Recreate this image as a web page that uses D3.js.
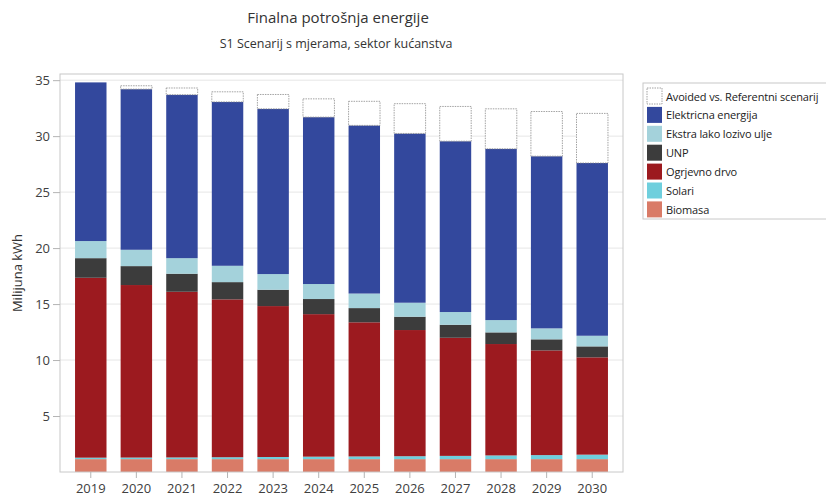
<!DOCTYPE html>
<html>
<head>
<meta charset="utf-8">
<script src="https://cdn.jsdelivr.net/npm/d3@7"></script>
<style>
  body { margin: 0; background: #fff; }
  text { font-family: "Open Sans", "Noto Sans", sans-serif; }
</style>
</head>
<body>
<div id="chart"></div>
<script>
const years = ["2019", "2020", "2021", "2022", "2023", "2024", "2025", "2026", "2027", "2028", "2029", "2030"];

const biomasa = [1.15, 1.15, 1.15, 1.15, 1.15, 1.15, 1.15, 1.15, 1.15, 1.15, 1.15, 1.15];
const solari = [0.13, 0.14, 0.15, 0.17, 0.19, 0.22, 0.24, 0.26, 0.29, 0.33, 0.36, 0.40];
const ogrjevnoDrvo = [16.07, 15.41, 14.80, 14.10, 13.48, 12.73, 11.98, 11.27, 10.55, 9.95, 9.35, 8.69];
const unp = [1.75, 1.69, 1.61, 1.54, 1.46, 1.35, 1.27, 1.19, 1.16, 1.04, 0.99, 0.98];
const ekstraLako = [1.53, 1.46, 1.39, 1.46, 1.40, 1.34, 1.30, 1.25, 1.14, 1.10, 0.98, 0.95];
const elektricna = [14.17, 14.35, 14.60, 14.64, 14.76, 14.91, 15.02, 15.12, 15.26, 15.30, 15.38, 15.43];
const avoided = [0, 0.30, 0.60, 0.90, 1.28, 1.63, 2.15, 2.66, 3.10, 3.57, 3.99, 4.43];

const yTicks = [5, 10, 15, 20, 25, 30, 35];

const series = [
  { name: "Biomasa", values: biomasa, color: "#d97b67" },
  { name: "Solari", values: solari, color: "#6fcfdd" },
  { name: "Ogrjevno drvo", values: ogrjevnoDrvo, color: "#9c1a1f" },
  { name: "UNP", values: unp, color: "#3c3c3c" },
  { name: "Ekstra lako lozivo ulje", values: ekstraLako, color: "#a4d2db" },
  { name: "Elektricna energija", values: elektricna, color: "#33489d" },
  { name: "Avoided vs. Referentni scenarij", values: avoided, color: "#ffffff", dashed: true }
];

const svgWidth = 826, svgHeight = 499;
const margin = { top: 74, right: 203, bottom: 27, left: 60 };
const width = svgWidth - margin.left - margin.right;
const height = svgHeight - margin.top - margin.bottom;

const svg = d3.select("#chart").append("svg")
  .attr("width", svgWidth)
  .attr("height", svgHeight);

const g = svg.append("g")
  .attr("transform", `translate(${margin.left}, ${margin.top})`);

const x = d3.scaleBand()
  .domain(years)
  .range([0, width])
  .paddingInner(0.31)
  .paddingOuter(0.33);

const y = d3.scaleLinear()
  .domain([0, 35.55])
  .range([height, 0]);

// grid
g.selectAll(".grid")
  .data(yTicks)
  .enter()
  .append("line")
  .attr("x1", 0)
  .attr("x2", width)
  .attr("y1", d => y(d))
  .attr("y2", d => y(d))
  .attr("stroke", "#e6e6e6")
  .attr("stroke-width", 1);

// stacked data
const table = years.map((yr, i) => {
  const row = { year: yr };
  series.forEach(s => { row[s.name] = s.values[i]; });
  return row;
});
const stack = d3.stack().keys(series.map(s => s.name));
const stacked = stack(table);

stacked.forEach((layer, li) => {
  const s = series[li];
  g.append("g")
    .selectAll("rect")
    .data(layer.filter(d => d[1] - d[0] > 0))
    .enter()
    .append("rect")
    .attr("x", d => x(d.data.year))
    .attr("width", x.bandwidth())
    .attr("y", d => y(d[1]))
    .attr("height", d => y(d[0]) - y(d[1]))
    .attr("fill", s.color)
    .attr("stroke", s.dashed ? "#8c8c8c" : "none")
    .attr("stroke-width", s.dashed ? 0.8 : 0)
    .attr("stroke-dasharray", s.dashed ? "1.5,1" : null);
});

// frame
g.append("rect")
  .attr("width", width)
  .attr("height", height)
  .attr("fill", "none")
  .attr("stroke", "#c8c8c8")
  .attr("stroke-width", 1);

// axes
const yAxis = g.append("g")
  .call(d3.axisLeft(y).tickValues(yTicks).tickSize(7).tickPadding(3))
  .call(a => a.select(".domain").remove());
yAxis.selectAll(".tick line").attr("stroke", "#b4b4b4");
yAxis.selectAll("text")
  .style("font-size", "13px")
  .attr("fill", "#404040");

const xAxis = g.append("g")
  .attr("transform", `translate(0, ${height})`)
  .call(d3.axisBottom(x).tickSize(6).tickPadding(6))
  .call(a => a.select(".domain").remove());
xAxis.selectAll(".tick line").attr("stroke", "#b4b4b4");
xAxis.selectAll("text")
  .style("font-size", "13px")
  .attr("fill", "#404040");

// y label
svg.append("text")
  .attr("transform", `translate(22, ${margin.top + height / 2}) rotate(-90)`)
  .attr("text-anchor", "middle")
  .style("font-size", "13px")
  .attr("fill", "#333")
  .text("Milijuna kWh");

// titles
svg.append("text")
  .attr("x", 338)
  .attr("y", 23)
  .attr("text-anchor", "middle")
  .style("font-size", "15px")
  .attr("fill", "#333")
  .text("Finalna potrošnja energije");

svg.append("text")
  .attr("x", 336)
  .attr("y", 48)
  .attr("text-anchor", "middle")
  .style("font-size", "12.5px")
  .attr("fill", "#333")
  .text("S1 Scenarij s mjerama, sektor kućanstva");

// legend
const legend = svg.append("g")
  .attr("transform", "translate(643, 83)");

legend.append("rect")
  .attr("width", 190)
  .attr("height", 136)
  .attr("fill", "#fff")
  .attr("stroke", "#c8c8c8");

const legendItems = series.slice().reverse();
const item = legend.selectAll(".item")
  .data(legendItems)
  .enter()
  .append("g")
  .attr("transform", (d, i) => `translate(4, ${5 + i * 18.9})`);

item.append("rect")
  .attr("width", 15)
  .attr("height", 16)
  .attr("fill", d => d.color)
  .attr("stroke", d => d.dashed ? "#8c8c8c" : "none")
  .attr("stroke-width", 0.8)
  .attr("stroke-dasharray", d => d.dashed ? "1.5,1" : null);

item.append("text")
  .attr("x", 19)
  .attr("y", 12.5)
  .style("font-size", "11px")
  .style("letter-spacing", "-0.15px")
  .attr("fill", "#222")
  .text(d => d.name);
</script>
</body>
</html>
